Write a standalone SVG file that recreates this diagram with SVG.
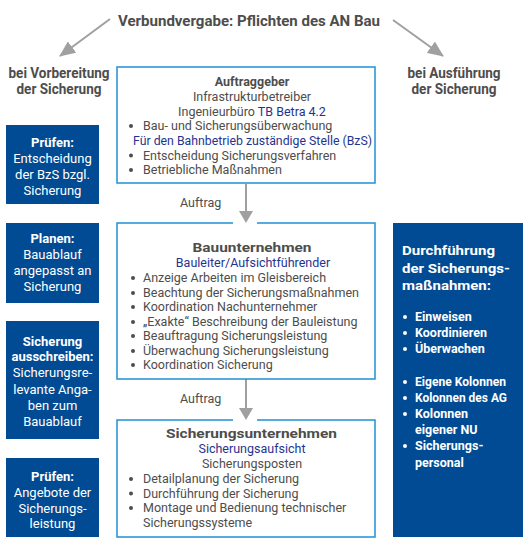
<svg xmlns="http://www.w3.org/2000/svg" width="528" height="544" viewBox="0 0 528 544">
<style>
text{font-family:Roboto,"Liberation Sans",sans-serif;fill:#4d4d4d;font-size:12.5px}
.h{font-weight:bold;font-size:14px}
.c{text-anchor:middle}
.b{fill:#1f3490}
.w{fill:#ffffff;font-size:13px}
.wb{fill:#ffffff;font-weight:bold;font-size:13px}
.rb{fill:#ffffff;font-weight:bold;font-size:12.5px}
.box{fill:#ffffff;stroke:#2290d4;stroke-width:1.5}
.dark{fill:#004b93}
.conn{stroke:#a0a0a0;stroke-width:2;fill:none}
.head{fill:#a0a0a0}
.dot{fill:#4d4d4d}
.wdot{fill:#ffffff}
</style>
<defs>
<marker id="ah2" viewBox="0 0 16 14" refX="15" refY="7" markerWidth="16" markerHeight="14" orient="auto" markerUnits="userSpaceOnUse">
<path d="M0,0 L16,7 L0,14 z" fill="#a0a0a0"/>
</marker>
</defs>

<g id="title">
<text class="h c" x="249" y="26" font-size="15" textLength="262" lengthAdjust="spacingAndGlyphs">Verbundvergabe: Pflichten des AN Bau</text>
</g>
<g id="label-left">
<text class="h c" x="59" y="78" textLength="101" lengthAdjust="spacingAndGlyphs">bei Vorbereitung</text>
<text class="h c" x="59" y="94" textLength="85" lengthAdjust="spacingAndGlyphs">der Sicherung</text>
</g>
<g id="label-right">
<text class="h c" x="454" y="78" textLength="93" lengthAdjust="spacingAndGlyphs">bei Ausführung</text>
<text class="h c" x="454" y="94" textLength="85" lengthAdjust="spacingAndGlyphs">der Sicherung</text>
</g>

<g id="connectors">
<line class="conn" x1="110" y1="19" x2="60" y2="56" marker-end="url(#ah2)"/>
<line class="conn" x1="393" y1="20" x2="443" y2="56" marker-end="url(#ah2)"/>
<line class="conn" x1="246" y1="184" x2="246" y2="212"/>
<path class="head" d="M239,211 L253,211 L246,223 z"/>
<line class="conn" x1="246" y1="379" x2="246" y2="409"/>
<path class="head" d="M239,408 L253,408 L246,420 z"/>
<text x="180" y="207">Auftrag</text>
<text x="180" y="403">Auftrag</text>
</g>

<g id="auftraggeber">
<rect class="box" x="117" y="67" width="258" height="116"/>
<text class="c" x="252" y="86" font-weight="bold">Auftraggeber</text>
<text class="c" x="252" y="101">Infrastrukturbetreiber</text>
<text class="c" x="252" y="115.5">Ingenieurbüro <tspan class="b">TB Betra 4.2</tspan></text>
<circle class="dot" cx="131" cy="126" r="2"/><text x="143" y="130">Bau- und Sicherungsüberwachung</text>
<text class="b" x="133" y="144.5" textLength="239" lengthAdjust="spacingAndGlyphs">Für den Bahnbetrieb zuständige Stelle (BzS)</text>
<circle class="dot" cx="131" cy="155.5" r="2"/><text x="143" y="159.5">Entscheidung Sicherungsverfahren</text>
<circle class="dot" cx="131" cy="170" r="2"/><text x="143" y="174">Betriebliche Maßnahmen</text>
</g>

<g id="bauunternehmen">
<path class="box" d="M233,223 H117 V379 H375 V223 H257"/>
<text class="c" x="252" y="252" font-weight="bold" font-size="16" textLength="119" lengthAdjust="spacingAndGlyphs">Bauunternehmen</text>
<text class="c b" x="253" y="267">Bauleiter/Aufsichtführender</text>
<circle class="dot" cx="133" cy="278" r="2"/><text x="143" y="282">Anzeige Arbeiten im Gleisbereich</text>
<circle class="dot" cx="133" cy="293" r="2"/><text x="143" y="297">Beachtung der Sicherungsmaßnahmen</text>
<circle class="dot" cx="133" cy="307" r="2"/><text x="143" y="311">Koordination Nachunternehmer</text>
<circle class="dot" cx="133" cy="322" r="2"/><text x="143" y="326">„Exakte“ Beschreibung der Bauleistung</text>
<circle class="dot" cx="133" cy="336" r="2"/><text x="143" y="340">Beauftragung Sicherungsleistung</text>
<circle class="dot" cx="133" cy="351" r="2"/><text x="143" y="355">Überwachung Sicherungsleistung</text>
<circle class="dot" cx="133" cy="365" r="2"/><text x="143" y="369">Koordination Sicherung</text>
</g>

<g id="sicherungsunternehmen">
<path class="box" d="M233,420 H117 V537 H375 V420 H257"/>
<text class="c" x="251.5" y="438" font-weight="bold" font-size="16" textLength="171" lengthAdjust="spacingAndGlyphs">Sicherungsunternehmen</text>
<text class="c b" x="252" y="453">Sicherungsaufsicht</text>
<text class="c" x="252" y="468">Sicherungsposten</text>
<circle class="dot" cx="131" cy="479" r="2"/><text x="143" y="483">Detailplanung der Sicherung</text>
<circle class="dot" cx="131" cy="493.5" r="2"/><text x="143" y="497.5">Durchführung der Sicherung</text>
<circle class="dot" cx="131" cy="508" r="2"/><text x="143" y="512">Montage und Bedienung technischer</text>
<text x="143" y="527">Sicherungssysteme</text>
</g>

<g id="pruefen-bzs">
<rect class="dark" x="6" y="125" width="93" height="79"/>
<text class="wb c" x="52.5" y="147">Prüfen:</text>
<text class="w c" x="52.5" y="163">Entscheidung</text>
<text class="w c" x="52.5" y="179">der BzS bzgl.</text>
<text class="w c" x="52.5" y="195">Sicherung</text>
</g>
<g id="planen">
<rect class="dark" x="6" y="223" width="93" height="80"/>
<text class="wb c" x="52.5" y="243">Planen:</text>
<text class="w c" x="52.5" y="259">Bauablauf</text>
<text class="w c" x="52.5" y="275">angepasst an</text>
<text class="w c" x="52.5" y="291">Sicherung</text>
</g>
<g id="ausschreiben">
<rect class="dark" x="6" y="321" width="93" height="118"/>
<text class="wb c" x="52.5" y="346">Sicherung</text>
<text class="wb c" x="52.5" y="361">ausschreiben:</text>
<text class="w c" x="52.5" y="377">Sicherungsre-</text>
<text class="w c" x="52.5" y="394">levante Anga-</text>
<text class="w c" x="52.5" y="410">ben zum</text>
<text class="w c" x="52.5" y="426">Bauablauf</text>
</g>
<g id="pruefen-angebote">
<rect class="dark" x="6" y="458" width="93" height="79"/>
<text class="wb c" x="52.5" y="481">Prüfen:</text>
<text class="w c" x="52.5" y="497">Angebote der</text>
<text class="w c" x="52.5" y="513">Sicherungs-</text>
<text class="w c" x="52.5" y="528">leistung</text>
</g>

<g id="durchfuehrung">
<rect class="dark" x="393" y="223" width="130" height="314"/>
<text class="wb" x="402" y="255" font-size="16" textLength="93" lengthAdjust="spacingAndGlyphs">Durchführung</text>
<text class="wb" x="402" y="273" font-size="16" textLength="108" lengthAdjust="spacingAndGlyphs">der Sicherungs-</text>
<text class="wb" x="402" y="290" font-size="16" textLength="89" lengthAdjust="spacingAndGlyphs">maßnahmen:</text>
<circle class="wdot" cx="405" cy="317" r="2"/><text class="rb" x="415" y="321">Einweisen</text>
<circle class="wdot" cx="405" cy="333" r="2"/><text class="rb" x="415" y="337">Koordinieren</text>
<circle class="wdot" cx="405" cy="349" r="2"/><text class="rb" x="415" y="353">Überwachen</text>
<circle class="wdot" cx="405" cy="382" r="2"/><text class="rb" x="415" y="386" textLength="91" lengthAdjust="spacingAndGlyphs">Eigene Kolonnen</text>
<circle class="wdot" cx="405" cy="398" r="2"/><text class="rb" x="415" y="402" textLength="92" lengthAdjust="spacingAndGlyphs">Kolonnen des AG</text>
<circle class="wdot" cx="405" cy="414" r="2"/><text class="rb" x="415" y="418">Kolonnen</text>
<text class="rb" x="415" y="434">eigener NU</text>
<circle class="wdot" cx="405" cy="446" r="2"/><text class="rb" x="415" y="450">Sicherungs-</text>
<text class="rb" x="415" y="467">personal</text>
</g>
</svg>
